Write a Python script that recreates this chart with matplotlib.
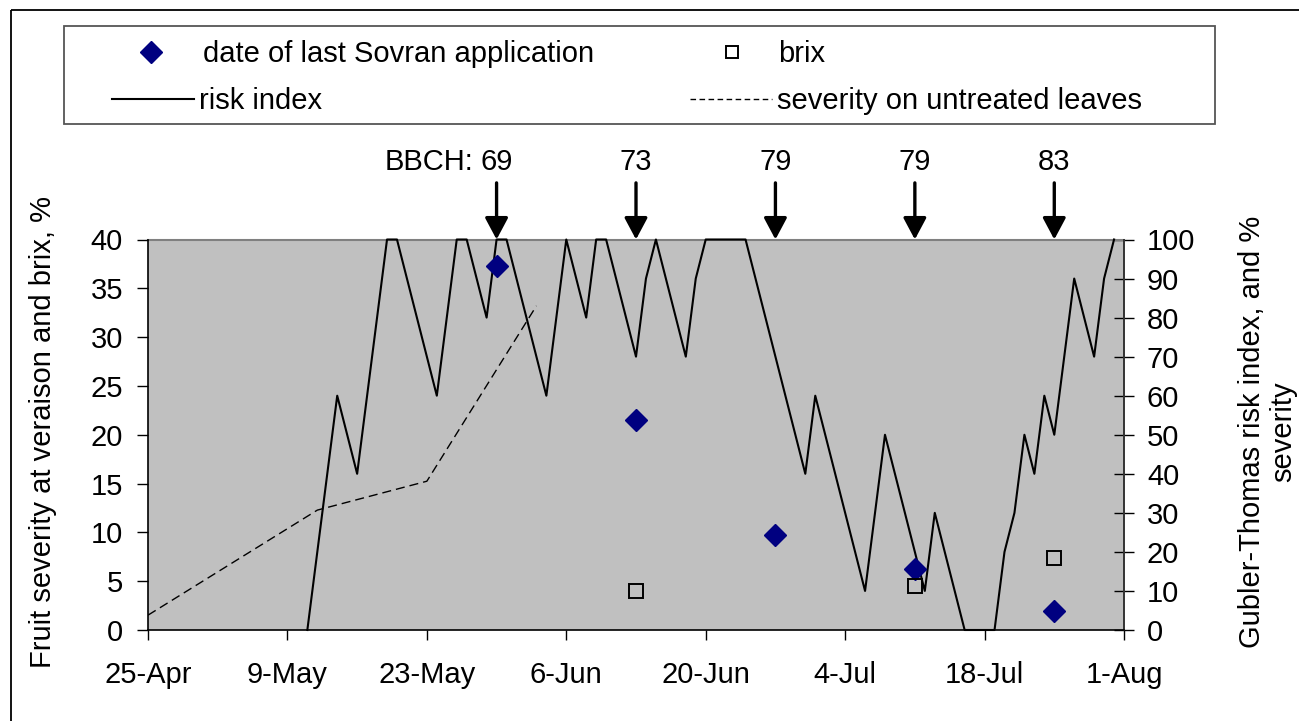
import pandas as pd
import matplotlib
matplotlib.use("Agg")
import matplotlib.pyplot as plt
import matplotlib.dates as mdates
from matplotlib.patches import Rectangle
from matplotlib.ticker import FuncFormatter, MultipleLocator, FixedLocator
from matplotlib.transforms import blended_transform_factory

plt.rcParams['font.family'] = ['Liberation Sans', 'DejaVu Sans']
FS = 21

# season start, all days below are offsets from 25-Apr
START = pd.Timestamp("2006-04-25")
N_DAYS = 98

# Gubler-Thomas risk index (right axis)
risk_day = [16, 19, 21, 24, 25, 27, 28, 29, 31, 32, 34, 35, 36, 38, 39, 40,
            42, 44, 45, 46, 48, 49, 50, 51, 54, 55, 56, 60, 66, 67, 72, 74,
            78, 79, 82, 85, 86, 87, 88, 89, 90, 91, 93, 95, 96, 97]
risk_val = [0, 60, 40, 100, 100, 80, 70, 60, 100, 100, 80, 100, 100, 80, 70, 60,
            100, 80, 100, 100, 80, 70, 90, 100, 70, 90, 100, 100, 40, 60, 10, 50,
            10, 30, 0, 0, 20, 30, 50, 40, 60, 50, 90, 70, 90, 100]

# severity on untreated leaves, % (right axis)
sev_day = [0, 17, 28, 39]
sev_val = [3.8, 30.7, 38.1, 83.0]

# last Sovran application -> fruit severity at veraison (left axis)
spray_day = [35, 49, 63, 77, 91]
fruit_sev = [37.3, 21.5, 9.7, 6.2, 1.9]
bbch = ["69", "73", "79", "79", "83"]

# brix (left axis)
brix_day = [49, 77, 91]
brix_val = [4.0, 4.5, 7.4]


def to_dates(days):
    return START + pd.to_timedelta(days, unit="D")


W, H = 1299, 721
fig = plt.figure(figsize=(W / 100, H / 100), dpi=100)

# plot area in pixels: x 148..1124, y 239.5..630
ax = fig.add_axes([148 / W, 1 - 630 / H, (1124 - 148) / W, (630 - 239.5) / H])
ax2 = ax.twinx()
ax.set_zorder(ax2.get_zorder() + 1)
ax.patch.set_visible(False)
ax2.patch.set_visible(True)
ax2.patch.set_facecolor("#c0c0c0")

# lines on the risk axis
ax2.plot(to_dates(risk_day), risk_val, color="black", lw=1.5, zorder=3, clip_on=False)
ax2.plot(to_dates(sev_day), sev_val, color="black", lw=1.0, dashes=(6.5, 3.6))

# markers on the left axis
ax.plot(to_dates(spray_day), fruit_sev, ls="none", marker="D", ms=11,
        color="#000080", zorder=3)
ax.plot(to_dates(brix_day), brix_val, ls="none", marker="s", ms=9.5,
        mfc="none", mec="black", mew=1.4, zorder=4)

# axes ranges and ticks
ax.set_xlim(to_dates(0), to_dates(N_DAYS))
ax.set_xticks(to_dates(list(range(0, N_DAYS + 1, 14))))
ax.xaxis.set_major_formatter(
    FuncFormatter(lambda v, p: f"{mdates.num2date(v).day}-{mdates.num2date(v):%b}"))
ax.set_ylim(0, 40)
ax.yaxis.set_major_locator(MultipleLocator(5))
# inner gridlines only; 0 and 40 are the frame
ax.yaxis.set_minor_locator(FixedLocator(list(range(5, 40, 5))))
ax2.set_ylim(0, 100)
ax2.yaxis.set_major_locator(MultipleLocator(10))

ax.yaxis.grid(True, which="minor", color="#333333", lw=1.1)
ax.tick_params(axis="y", which="minor", length=0)
ax.tick_params(axis="y", direction="out", length=8, width=1, pad=10, labelsize=FS)
ax.tick_params(axis="x", direction="out", length=7, width=1, pad=15, labelsize=FS)
ax2.tick_params(axis="y", direction="inout", length=15, width=1, pad=9, labelsize=FS)

for side in ["left", "bottom", "right"]:
    ax2.spines[side].set_visible(False)
ax2.spines["top"].set_color("#808080")
ax2.spines["top"].set_linewidth(1.5)
ax.spines["top"].set_visible(False)
for side in ["left", "bottom"]:
    ax.spines[side].set_color("black")
    ax.spines[side].set_linewidth(1.2)
ax.spines["right"].set_color("#333333")
ax.spines["right"].set_linewidth(1.4)

# growth stage arrows above the plot
trans = blended_transform_factory(ax.transData, ax.transAxes)
spray_num = mdates.date2num(to_dates(spray_day))
for x, lab in zip(spray_num, bbch):
    ax.annotate("", xy=(x, 1.0), xycoords=trans, xytext=(x, 1.145), textcoords=trans,
                arrowprops=dict(arrowstyle="-|>,head_length=0.6,head_width=0.32",
                                mutation_scale=22, lw=2.4, color="black",
                                shrinkA=0, shrinkB=0),
                annotation_clip=False)
    ax.text(x, 1.178, lab, transform=trans, ha="center", va="baseline", fontsize=FS)
ax.annotate("BBCH:", xy=(spray_num[0], 1.178), xycoords=trans,
            xytext=(-16.5, 0), textcoords="offset points",
            ha="right", va="baseline", fontsize=FS, annotation_clip=False)

# axis titles
fig.text(43 / W, 1 - 432 / H, "Fruit severity at veraison and brix, %",
         rotation=90, ha="center", va="center", fontsize=FS)
fig.text(1268 / W, 1 - 432 / H, "Gubler-Thomas risk index, and %\nseverity",
         rotation=90, ha="center", va="center", multialignment="center",
         fontsize=FS, linespacing=1.15)

# chart border and legend box, drawn in pixel space
ov = fig.add_axes([0, 0, 1, 1])
ov.set_zorder(-1)
ov.set_xlim(0, W)
ov.set_ylim(H, 0)
ov.axis("off")
ov.add_patch(Rectangle((11, 10), W + 20, H + 20, fill=False, ec="black", lw=1.3))
ov.add_patch(Rectangle((64, 26), 1215 - 64, 124 - 26, fill=False, ec="#555555", lw=1.3))

ov.plot([151], [52], marker="D", ms=11, color="#000080", ls="none")
ov.text(203, 62, "date of last Sovran application", ha="left", va="baseline", fontsize=FS)
ov.plot([732], [52], marker="s", ms=8.5, mfc="none", mec="black", mew=1.4, ls="none")
ov.text(778, 62, "brix", ha="left", va="baseline", fontsize=FS)

ov.plot([112, 194], [99, 99], color="black", lw=1.5)
ov.text(199, 109, "risk index", ha="left", va="baseline", fontsize=FS)
ov.plot([690, 772], [99, 99], color="black", lw=1.0, dashes=(4, 2.5))
ov.text(777, 109, "severity on untreated leaves", ha="left", va="baseline", fontsize=FS)

fig.savefig("out.png", dpi=100)
